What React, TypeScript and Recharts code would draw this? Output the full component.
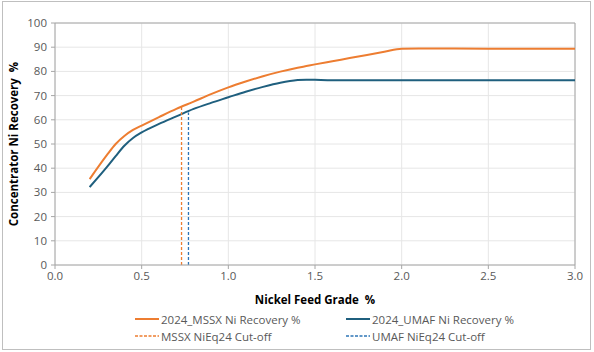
import { LineChart, Line, XAxis, YAxis, CartesianGrid, ReferenceLine } from "recharts";

const grades = [0.2, 0.3, 0.35, 0.4, 0.45, 0.5, 0.6, 0.7, 0.8, 0.9, 1.0, 1.1, 1.2, 1.3, 1.4, 1.45, 1.5, 1.6, 1.7, 1.8, 1.9, 2.0, 2.1, 2.5, 3.0];
const mssxRecovery = [35.5, 45.5, 50, 53.3, 55.8, 57.6, 61.1, 64.5, 67.5, 70.6, 73.4, 75.8, 78, 79.9, 81.5, 82.2, 82.9, 84.2, 85.5, 86.8, 88.1, 89.4, 89.5, 89.4, 89.4];
const umafRecovery = [32.2, 40.5, 45, 49.3, 52.5, 54.8, 58.3, 61.4, 64.5, 67, 69.3, 71.6, 73.6, 75.3, 76.4, 76.6, 76.5, 76.3, 76.3, 76.3, 76.3, 76.3, 76.3, 76.3, 76.3];

const mssxCutoff = { grade: 0.73, recovery: 65.3 };
const umafCutoff = { grade: 0.77, recovery: 63 };

const xTicks = [0, 0.5, 1.0, 1.5, 2.0, 2.5, 3.0];
const yTicks = [0, 10, 20, 30, 40, 50, 60, 70, 80, 90, 100];

const ORANGE = "#ED7D31";
const DARK_BLUE = "#1F5F7E";
const LIGHT_BLUE = "#2E75B6";
const FONT = "'Open Sans', sans-serif";

const curveData = grades.map((g, i) => ({ grade: g, mssx: mssxRecovery[i], umaf: umafRecovery[i] }));
const mssxCutData = [
  { grade: mssxCutoff.grade, cut: 0 },
  { grade: mssxCutoff.grade, cut: mssxCutoff.recovery },
];
const umafCutData = [
  { grade: umafCutoff.grade, cut: 0 },
  { grade: umafCutoff.grade, cut: umafCutoff.recovery },
];

const legendItems = [
  { label: "2024_MSSX Ni Recovery %", color: ORANGE, dashed: false, left: 135, top: 312 },
  { label: "2024_UMAF Ni Recovery %", color: DARK_BLUE, dashed: false, left: 346, top: 312 },
  { label: "MSSX NiEq24 Cut-off", color: ORANGE, dashed: true, left: 135, top: 329 },
  { label: "UMAF NiEq24 Cut-off", color: LIGHT_BLUE, dashed: true, left: 346, top: 329 },
];

export default function App() {
  return (
    <div style={{ position: "absolute", left: 0, top: 0, width: 594, height: 352, background: "#fff", fontFamily: FONT }}>
      <div
        style={{
          position: "absolute", left: 2, top: 1, width: 589, height: 349,
          border: "1px solid #BFBFBF", boxSizing: "border-box",
        }}
      />
      <LineChart
        width={594}
        height={352}
        data={curveData}
        margin={{ top: 23, right: 19, left: 0, bottom: 47 }}
        style={{ position: "absolute", left: 0, top: 0 }}
      >
        <CartesianGrid stroke="#E6E6E6" />
        <XAxis
          dataKey="grade"
          type="number"
          domain={[0, 3]}
          ticks={xTicks}
          tickFormatter={(v) => v.toFixed(1)}
          height={40}
          tickSize={4}
          tickMargin={3}
          stroke="#A6A6A6"
          tick={{ fill: "#595959", fontSize: 11.5, fontFamily: FONT }}
          label={{
            value: "Nickel Feed Grade\u00a0\u00a0%",
            position: "insideBottom",
            offset: 1,
            style: { fill: "#000", fontSize: 11.5, fontWeight: 700, fontFamily: FONT },
          }}
          allowDuplicatedCategory={false}
        />
        <YAxis
          type="number"
          domain={[0, 100]}
          ticks={yTicks}
          width={55}
          tickSize={4}
          tickMargin={4}
          stroke="#A6A6A6"
          tick={{ fill: "#595959", fontSize: 11.5, fontFamily: FONT }}
          label={{
            value: "Concentrator Ni Recovery\u00a0\u00a0%",
            angle: -90,
            position: "insideLeft",
            offset: 14,
            style: { textAnchor: "middle", fill: "#000", fontSize: 11.5, fontWeight: 700, fontFamily: FONT },
          }}
        />
        <ReferenceLine y={100} stroke="#A6A6A6" />
        <ReferenceLine x={3} stroke="#A6A6A6" />
        <Line dataKey="mssx" type="monotone" stroke={ORANGE} strokeWidth={2} dot={false} isAnimationActive={false} />
        <Line dataKey="umaf" type="monotone" stroke={DARK_BLUE} strokeWidth={2} dot={false} isAnimationActive={false} />
        <Line data={mssxCutData} dataKey="cut" stroke={ORANGE} strokeWidth={1.3} strokeDasharray="3 2" dot={false} isAnimationActive={false} />
        <Line data={umafCutData} dataKey="cut" stroke={LIGHT_BLUE} strokeWidth={1.3} strokeDasharray="3 2" dot={false} isAnimationActive={false} />
      </LineChart>
      {legendItems.map((item) => (
        <div
          key={item.label}
          style={{ position: "absolute", left: item.left, top: item.top, height: 14, display: "flex", alignItems: "center", fontSize: 11.5, color: "#595959", whiteSpace: "nowrap" }}
        >
          <svg width={24} height={4} style={{ marginRight: 2 }}>
            <line x1={0} y1={2} x2={24} y2={2} stroke={item.color} strokeWidth={item.dashed ? 1.3 : 2} strokeDasharray={item.dashed ? "3 1.5" : undefined} />
          </svg>
          {item.label}
        </div>
      ))}
    </div>
  );
}
